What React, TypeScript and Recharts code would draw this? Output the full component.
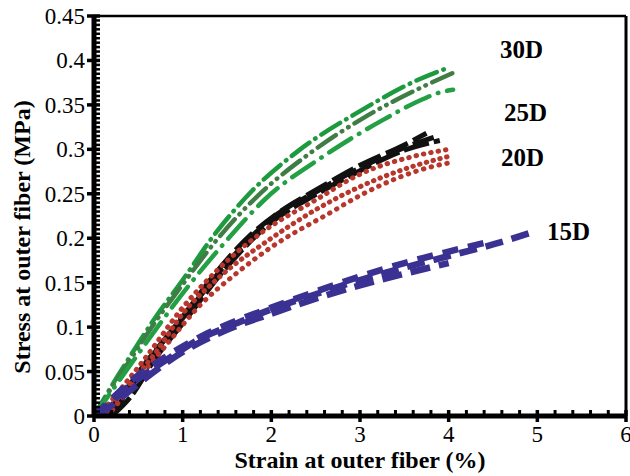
import { LineChart, Line, XAxis, YAxis, ReferenceLine } from "recharts";

// strain (%) / stress (MPa) pairs
const green30a = [[0, 0], [0.2, 0.034], [0.4, 0.066], [0.7, 0.112], [1.0, 0.153], [1.35, 0.203], [1.77, 0.252], [2.3, 0.298], [3.0, 0.343], [3.65, 0.378], [4.0, 0.392]];
const green30b = [[0, 0], [0.2, 0.032], [0.4, 0.062], [0.7, 0.107], [1.0, 0.148], [1.4, 0.2], [1.85, 0.248], [2.4, 0.293], [3.05, 0.336], [3.7, 0.37], [4.05, 0.386]];
const green30c = [[0, 0], [0.2, 0.028], [0.5, 0.07], [1.0, 0.138], [1.5, 0.198], [1.92, 0.243], [2.6, 0.293], [3.24, 0.332], [3.7, 0.356], [3.9, 0.364], [4.05, 0.367]];

const black25a = [[0.15, 0], [0.3, 0.016], [0.6, 0.06], [1.0, 0.112], [1.5, 0.176], [1.77, 0.204], [2.1, 0.23], [2.5, 0.254], [3.0, 0.282], [3.5, 0.305], [3.75, 0.318]];
const black25b = [[0.2, 0], [0.4, 0.02], [0.7, 0.066], [1.0, 0.104], [1.5, 0.168], [2.0, 0.218], [2.5, 0.249], [3.0, 0.276], [3.5, 0.299], [3.9, 0.31]];
const black25c = [[0.1, 0], [0.3, 0.022], [0.6, 0.062], [1.0, 0.11], [1.5, 0.172], [2.0, 0.222], [2.5, 0.252], [3.0, 0.279], [3.5, 0.302], [3.85, 0.314]];

const red20a = [[0.05, 0], [0.3, 0.03], [0.6, 0.068], [1.0, 0.122], [1.4, 0.165], [1.9, 0.207], [2.5, 0.243], [3.0, 0.272], [3.6, 0.292], [4.0, 0.3]];
const red20b = [[0.1, 0], [0.35, 0.03], [0.7, 0.072], [1.0, 0.115], [1.4, 0.155], [2.0, 0.2], [2.5, 0.232], [3.0, 0.258], [3.6, 0.281], [4.0, 0.292]];
const red20c = [[0.15, 0], [0.4, 0.03], [0.8, 0.078], [1.2, 0.125], [1.6, 0.16], [2.0, 0.19], [2.67, 0.229], [3.0, 0.248], [3.43, 0.268], [3.83, 0.281], [4.02, 0.285]];

const blue15a = [[0, 0], [0.2, 0.016], [0.4, 0.034], [0.8, 0.062], [1.2, 0.087], [1.6, 0.104], [2.0, 0.12], [2.5, 0.137], [3.0, 0.153], [3.5, 0.167], [4.0, 0.18], [4.5, 0.193], [4.95, 0.207]];
const blue15b = [[0, 0], [0.2, 0.019], [0.4, 0.038], [0.8, 0.066], [1.2, 0.089], [1.6, 0.107], [2.0, 0.122], [2.5, 0.14], [3.0, 0.157], [3.5, 0.172], [4.0, 0.185], [4.5, 0.197]];
const blue15c = [[0.05, 0], [0.3, 0.02], [0.6, 0.044], [1.0, 0.072], [1.5, 0.097], [2.0, 0.115], [2.5, 0.132], [3.0, 0.147], [3.5, 0.16], [4.0, 0.172]];

const xMajor = [0, 1, 2, 3, 4, 5, 6];
const yMajor = [0, 0.05, 0.1, 0.15, 0.2, 0.25, 0.3, 0.35, 0.4, 0.45];
const xMinorPerMajor = 5;
const yMinorPerMajor = 10;

const xTicks = Array.from({ length: 6 * xMinorPerMajor + 1 }, (_, i) => i / xMinorPerMajor);
const yTicks = Array.from({ length: 9 * yMinorPerMajor + 1 }, (_, i) => i / (20 * yMinorPerMajor));

const toPts = (arr: number[][]) => arr.map(([x, y]) => ({ x, y }));

const FONT = "'Liberation Serif', 'Times New Roman', serif";

const isMajor = (v: number, list: number[]) => list.some((m) => Math.abs(m - v) < 1e-6);

const XTick = (props: any) => {
  const { x, y, payload } = props;
  const v = payload.value;
  if (!isMajor(v, xMajor)) {
    return <line x1={x} x2={x} y1={y - 6} y2={y} stroke="#000" strokeWidth={3} />;
  }
  return (
    <g>
      <line x1={x} x2={x} y1={y - 6} y2={y + 6} stroke="#000" strokeWidth={3.5} />
      <text x={x} y={y + 26} textAnchor="middle" fontSize={23} fontFamily={FONT} fill="#000">
        {v}
      </text>
    </g>
  );
};

const YTick = (props: any) => {
  const { x, y, payload } = props;
  const v = payload.value;
  if (!isMajor(v, yMajor)) {
    return <line x1={x} x2={x + 6} y1={y} y2={y} stroke="#000" strokeWidth={2.5} />;
  }
  return (
    <g>
      <line x1={x - 7} x2={x + 6} y1={y} y2={y} stroke="#000" strokeWidth={3.5} />
      <text x={x - 9} y={y + 8} textAnchor="end" fontSize={23} fontFamily={FONT} fill="#000">
        {Number(v.toFixed(2)).toString()}
      </text>
    </g>
  );
};

const series = [
  { key: "g30a", data: green30a, stroke: "#1e9a3e", dash: "22 7 0.5 7", width: 4.5, cap: "round" },
  { key: "g30b", data: green30b, stroke: "#3f7d45", dash: "22 7 0.5 7 0.5 7", width: 4.5, cap: "round" },
  { key: "g30c", data: green30c, stroke: "#22a043", dash: "26 9 0.5 9", width: 4.5, cap: "round" },
  { key: "k25a", data: black25a, stroke: "#111", dash: "24 6", width: 5, cap: "butt" },
  { key: "k25b", data: black25b, stroke: "#111", dash: "26 5", width: 5, cap: "butt" },
  { key: "k25c", data: black25c, stroke: "#111", dash: "22 6", width: 5, cap: "butt" },
  { key: "r20a", data: red20a, stroke: "#b8372d", dash: "0.5 7", width: 5, cap: "round" },
  { key: "r20b", data: red20b, stroke: "#b8372d", dash: "0.5 6.5", width: 5, cap: "round" },
  { key: "r20c", data: red20c, stroke: "#b8372d", dash: "0.5 7.5", width: 5, cap: "round" },
  { key: "b15a", data: blue15a, stroke: "#3a3192", dash: "18 9", width: 6.5, cap: "butt" },
  { key: "b15b", data: blue15b, stroke: "#3a3192", dash: "16 10", width: 6.5, cap: "butt" },
  { key: "b15c", data: blue15c, stroke: "#3a3192", dash: "20 9", width: 6.5, cap: "butt" },
];

const groupLabels = [
  { text: "30D", left: 500, top: 37 },
  { text: "25D", left: 504, top: 100 },
  { text: "20D", left: 501, top: 145 },
  { text: "15D", left: 547, top: 219 },
];

const App = () => {
  return (
    <div style={{ position: "absolute", left: 0, top: 0, width: 630, height: 476, background: "#fff" }}>
      <LineChart width={630} height={476} margin={{ top: 16, right: 4, bottom: 0, left: 0 }}>
        <XAxis
          type="number"
          dataKey="x"
          domain={[0, 6]}
          ticks={xTicks}
          interval={0}
          tickSize={0}
          tickMargin={0}
          tickLine={false}
          tick={XTick}
          axisLine={{ stroke: "#000", strokeWidth: 5 }}
          height={60}
          allowDataOverflow
        />
        <YAxis
          type="number"
          dataKey="y"
          domain={[0, 0.45]}
          ticks={yTicks}
          interval={0}
          tickSize={0}
          tickMargin={0}
          tickLine={false}
          tick={YTick}
          axisLine={{ stroke: "#000", strokeWidth: 5 }}
          width={94}
          allowDataOverflow
        />
        <ReferenceLine y={0.45} stroke="#000" strokeWidth={2.5} />
        <ReferenceLine x={6} stroke="#000" strokeWidth={3} />
        {series.map((s) => (
          <Line
            key={s.key}
            data={toPts(s.data)}
            dataKey="y"
            type="monotone"
            stroke={s.stroke}
            strokeWidth={s.width}
            strokeDasharray={s.dash}
            strokeLinecap={s.cap as any}
            dot={false}
            activeDot={false}
            isAnimationActive={false}
          />
        ))}
      </LineChart>
      {groupLabels.map((l) => (
        <div
          key={l.text}
          style={{
            position: "absolute",
            left: l.left,
            top: l.top,
            fontFamily: FONT,
            fontWeight: "bold",
            fontSize: 25,
            lineHeight: 1,
          }}
        >
          {l.text}
        </div>
      ))}
      <div
        style={{
          position: "absolute",
          left: 0,
          width: 630,
          top: 448,
          paddingLeft: 94,
          paddingRight: 4,
          boxSizing: "border-box",
          textAlign: "center",
          fontFamily: FONT,
          fontWeight: "bold",
          fontSize: 24,
          lineHeight: 1,
        }}
      >
        Strain at outer fiber (%)
      </div>
      <div
        style={{
          position: "absolute",
          left: 22,
          top: 237,
          transform: "translate(-50%, -50%) rotate(-90deg)",
          whiteSpace: "nowrap",
          fontFamily: FONT,
          fontWeight: "bold",
          fontSize: 24,
          lineHeight: 1,
        }}
      >
        Stress at outer fiber (MPa)
      </div>
    </div>
  );
};

export default App;
